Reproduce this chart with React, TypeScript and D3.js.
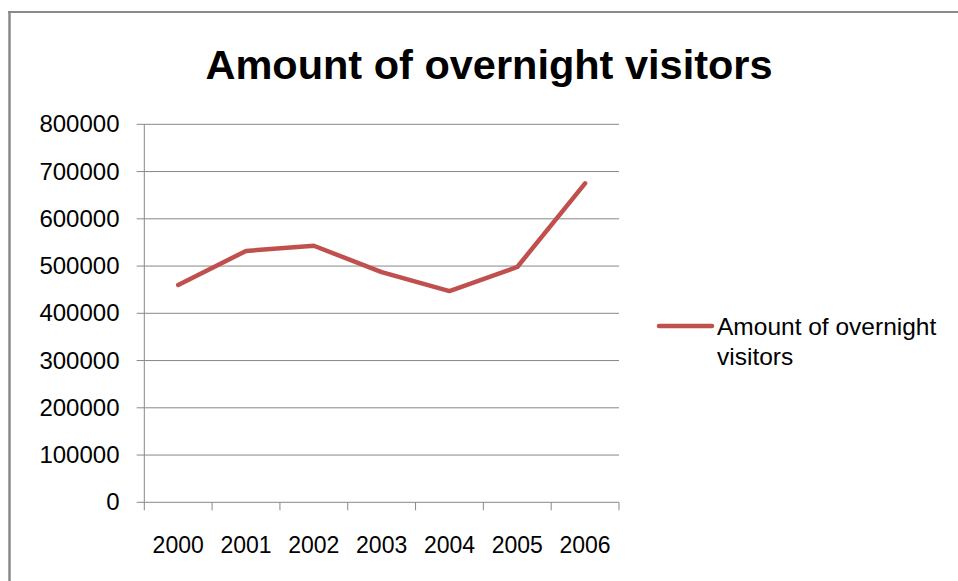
import React from "react";
import * as d3 from "d3";

const years = ["2000", "2001", "2002", "2003", "2004", "2005", "2006"];
const visitors = [460000, 532000, 543000, 487000, 447000, 498000, 675000];
const yTicks = [0, 100000, 200000, 300000, 400000, 500000, 600000, 700000, 800000];
const title = "Amount of overnight visitors";
const seriesName = "Amount of overnight visitors";
const legendLines = ["Amount of overnight", "visitors"];

const W = 958;
const H = 581;
const FONT = "'Liberation Sans', Arial, sans-serif";

export default function App() {
  const x = d3.scaleBand<string>().domain(years).range([144.3, 619]).paddingInner(0).paddingOuter(0);
  const y = d3.scaleLinear().domain([0, 800000]).range([502.3, 124.3]);
  const line = d3
    .line<number>()
    .x((_, i) => (x(years[i]) as number) + x.bandwidth() / 2)
    .y((d) => y(d));
  const bandEdges = years.map((yr) => x(yr) as number).concat([x.range()[1]]);
  const grid = "#888888";

  return (
    <svg
      width={W}
      height={H}
      style={{ position: "absolute", left: 0, top: 0, background: "#fff" }}
      fontFamily={FONT}
    >
      {/* outer border */}
      <line x1={8} x2={W} y1={12} y2={12} stroke="#8a8a8a" strokeWidth={2} />
      <line x1={9.5} x2={9.5} y1={11} y2={H} stroke="#8a8a8a" strokeWidth={2.5} />

      {/* title */}
      <text x={489} y={79} textAnchor="middle" fontSize={41.5} fontWeight="bold" fill="#000">
        {title}
      </text>

      {/* gridlines and y ticks */}
      {yTicks.map((t) => (
        <g key={t}>
          <line x1={136.7} x2={619} y1={y(t)} y2={y(t)} stroke={grid} strokeWidth={1} />
          <text x={119.5} y={y(t) + 8} textAnchor="end" fontSize={24} fill="#000">
            {t}
          </text>
        </g>
      ))}

      {/* y axis */}
      <line x1={144.3} x2={144.3} y1={y(800000)} y2={y(0)} stroke={grid} strokeWidth={1} />

      {/* x ticks */}
      {bandEdges.map((e, i) => (
        <line key={i} x1={e} x2={e} y1={y(0)} y2={y(0) + 8} stroke={grid} strokeWidth={1} />
      ))}
      {years.map((yr) => (
        <text
          key={yr}
          x={(x(yr) as number) + x.bandwidth() / 2}
          y={552.7}
          textAnchor="middle"
          fontSize={23}
          fill="#000"
        >
          {yr}
        </text>
      ))}

      {/* series */}
      <path
        d={line(visitors) || ""}
        fill="none"
        stroke="#C0504D"
        strokeWidth={4.5}
        strokeLinejoin="round"
        strokeLinecap="round"
      />

      {/* legend */}
      <g aria-label={seriesName}>
        <line x1={659} x2={712} y1={326} y2={326} stroke="#C0504D" strokeWidth={4.5} strokeLinecap="round" />
        {legendLines.map((l, i) => (
          <text key={i} x={717} y={335 + i * 30} fontSize={24.5} fill="#000">
            {l}
          </text>
        ))}
      </g>
    </svg>
  );
}
